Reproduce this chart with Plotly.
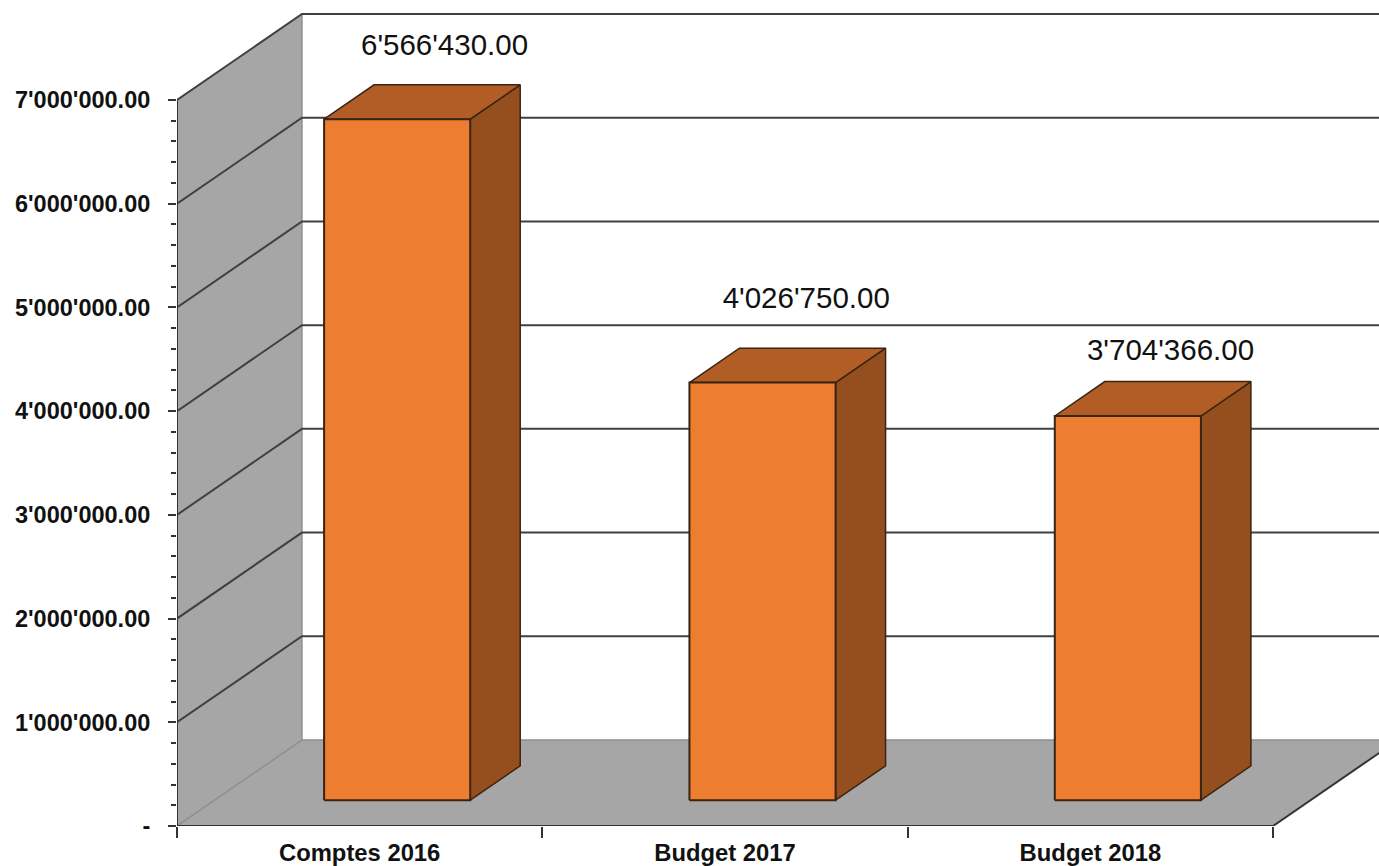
import plotly.graph_objects as go

categories = ["Comptes 2016", "Budget 2017", "Budget 2018"]
values = [6566430.00, 4026750.00, 3704366.00]
label_lift = [395000, 496000, 318000]
label_shift = [0.01, 0.0, -0.003]
major_ticks = [0, 1000000, 2000000, 3000000, 4000000, 5000000, 6000000, 7000000]
minor_ticks = [v * 200000 for v in range(0, 36) if v % 5 != 0]

# Oblique projection of the depth axis, in data units
DX, DY = 0.342, 829000.0
BAR_W, BAR_L = 0.40, 0.30
Z0, Z1 = 0.30, 0.70
XMAX, YMAX = 3.29, 7964000

WALL = "#a6a6a6"
GRID = "#404040"
EDGE_GREY = "#8f8f8f"
FRONT, TOP, SIDE = "#ed7d31", "#b25d25", "#954f1f"
EDGE = "#3a2412"
FONT = "Liberation Sans, Arial, sans-serif"


def fmt(v):
    return f"{v:,.2f}".replace(",", "'")


def poly(xs, ys, fill, line=None, width=0):
    return go.Scatter(
        x=xs, y=ys, mode="lines", fill="toself", fillcolor=fill,
        line=dict(color=line or fill, width=width if line else 0),
        hoverinfo="skip", showlegend=False,
    )


def seg(xs, ys, color, width, clip=True):
    return go.Scatter(
        x=xs, y=ys, mode="lines", line=dict(color=color, width=width),
        hoverinfo="skip", showlegend=False, cliponaxis=clip,
    )


top = major_ticks[-1]
fig = go.Figure()
# left wall and floor
fig.add_trace(poly([0, DX, DX, 0, 0], [0, DY, top + DY, top, 0], WALL))
fig.add_trace(poly([0, DX, 3 + DX, 3, 0], [0, DY, DY, 0, 0], WALL))
fig.add_trace(seg([0, DX, 3 + DX], [0, DY, DY], EDGE_GREY, 1.5))
fig.add_trace(seg([DX, DX], [DY, top + DY], EDGE_GREY, 1.5))
# gridlines
for v in major_ticks[1:]:
    fig.add_trace(seg([0, DX, 3 + DX], [v, v + DY, v + DY], GRID, 2))
fig.add_trace(seg([3, 3 + DX], [0, DY], "#333333", 2))

# bars
for i, v in enumerate(values):
    x0 = i + BAR_L + Z0 * DX
    x1 = x0 + BAR_W
    y0 = Z0 * DY
    y1 = v + Z0 * DY
    ddx, ddy = (Z1 - Z0) * DX, (Z1 - Z0) * DY
    fig.add_trace(poly([x1, x1 + ddx, x1 + ddx, x1, x1], [y0, y0 + ddy, y1 + ddy, y1, y0], SIDE, EDGE, 1.5))
    fig.add_trace(poly([x0, x0 + ddx, x1 + ddx, x1, x0], [y1, y1 + ddy, y1 + ddy, y1, y1], TOP, EDGE, 1.5))
    fig.add_trace(poly([x0, x1, x1, x0, x0], [y0, y0, y1, y1, y0], FRONT, EDGE, 2))

# value labels
fig.add_trace(go.Scatter(
    x=[i + 0.5 + 0.65 * DX + s for i, s in enumerate(label_shift)],
    y=[v + 0.65 * DY + l for v, l in zip(values, label_lift)],
    text=[fmt(v) for v in values],
    mode="text", textposition="middle center",
    textfont=dict(family=FONT, size=29.5, color="#111111"),
    hoverinfo="skip", showlegend=False,
))

# axis lines
fig.add_trace(seg([0, 0], [0, top], "#333333", 2, clip=False))
fig.add_trace(seg([0, 3], [0, 0], "#333333", 2, clip=False))

fig.update_layout(
    width=1379, height=866,
    margin=dict(l=177, r=0, t=0, b=40, pad=0, autoexpand=False),
    paper_bgcolor="white", plot_bgcolor="white",
    hovermode=False, showlegend=False,
    xaxis=dict(
        range=[0, XMAX], showgrid=False, zeroline=False, showline=False,
        automargin=False,
        tickmode="array", tickvals=[i + 0.5 for i in range(len(categories))],
        ticktext=categories, ticks="", ticklabelstandoff=10,
        tickfont=dict(family=FONT, size=23.8, color="#111111", weight="bold"),
        minor=dict(tickmode="array", tickvals=[0, 1, 2, 3], ticks="outside",
                   ticklen=11, tickwidth=1.5, tickcolor="#333333", showgrid=False),
    ),
    yaxis=dict(
        range=[0, YMAX], showgrid=False, zeroline=False, showline=False,
        automargin=False,
        tickmode="array", tickvals=major_ticks,
        ticktext=["-"] + [fmt(v) for v in major_ticks[1:]],
        ticks="outside", ticklen=8, tickwidth=1.5, tickcolor="#333333",
        ticklabelstandoff=13,
        tickfont=dict(family=FONT, size=23.5, color="#111111", weight="bold"),
        minor=dict(tickmode="array", tickvals=minor_ticks, ticks="outside",
                   ticklen=5, tickwidth=1.5, tickcolor="#333333", showgrid=False),
    ),
)
fig.write_html("out.html", post_script="document.body.style.margin='0';",
               config={"displayModeBar": False})
